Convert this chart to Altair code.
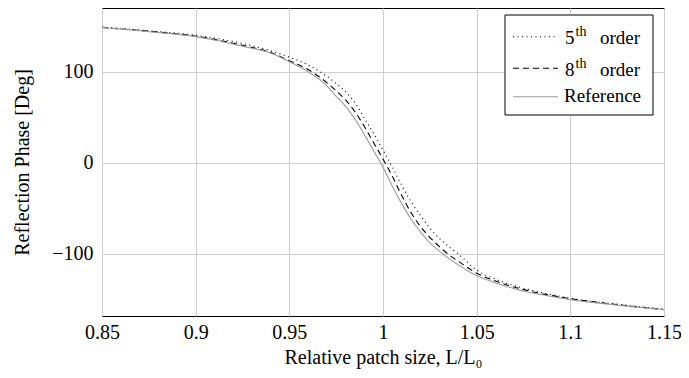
import altair as alt
import pandas as pd

# ---- data ----
x_vals = [0.85, 0.875, 0.90, 0.925, 0.94, 0.95, 0.96, 0.97, 0.975, 0.98,
          0.985, 0.99, 0.995, 1.0, 1.005, 1.01, 1.015, 1.02, 1.025, 1.03,
          1.035, 1.04, 1.05, 1.06, 1.075, 1.09, 1.10, 1.125, 1.15]

ref_vals = [148.5, 144, 138.5, 128, 120.5, 111, 100, 84.5, 73, 62,
            48, 31, 13, -5, -26, -45, -62, -76, -88, -97,
            -105, -112, -124, -132, -141, -147, -150.5, -156.5, -161.5]

order8_vals = [148.5, 144.5, 139, 129, 121, 112, 102.5, 88, 79, 69,
               56, 40, 22, 4, -15, -36, -55, -70, -82, -92,
               -101, -108, -121.5, -130, -139.5, -146, -149.5, -156, -161.5]

order5_vals = [149, 145, 140, 131, 123, 116, 107.5, 95, 87, 78,
               66, 49, 32, 14, -5, -25, -43, -58, -72, -83,
               -92, -100, -118, -128, -138, -145, -149, -155.5, -161]

series_names = ["5th order", "8th order", "Reference"]
series_colors = ["#000000", "#000000", "#9a9a9a"]
series_dashes = [[1, 3.5], [6, 4], [1, 0]]

x_ticks = [0.85, 0.9, 0.95, 1.0, 1.05, 1.1, 1.15]
y_ticks = [-100, 0, 100]

legend_base = ["5", "8", None]
legend_sup = ["th", "th", None]
legend_tail = ["order", "order", "Reference"]

rows = []
for name, vals in zip(series_names, [order5_vals, order8_vals, ref_vals]):
    for xv, yv in zip(x_vals, vals):
        rows.append({"x": xv, "y": yv, "series": name})
df = pd.DataFrame(rows)

FONT = "Liberation Serif"

lines = alt.Chart(df).mark_line(strokeWidth=1.1, interpolate="monotone").encode(
    x=alt.X("x:Q", scale=alt.Scale(domain=[0.85, 1.15], nice=False, zero=False),
            axis=alt.Axis(values=x_ticks, format="~g", title="Relative patch size, L/L\u2080",
                          grid=True, ticks=False, domain=False, labelPadding=6,
                          titlePadding=5, labelFlush=False)),
    y=alt.Y("y:Q", scale=alt.Scale(domain=[-168.5, 170], nice=False, zero=False),
            axis=alt.Axis(values=y_ticks, title="Reflection Phase [Deg]", grid=True,
                          ticks=False, domain=False, labelPadding=9, titlePadding=19)),
    color=alt.Color("series:N", scale=alt.Scale(domain=series_names, range=series_colors), legend=None),
    strokeDash=alt.StrokeDash("series:N", scale=alt.Scale(domain=series_names, range=series_dashes), legend=None),
    detail="series:N",
)

one = pd.DataFrame({"k": [0]})

# legend box (pixel positions inside the plot area)
box_x, box_x2, box_y, box_y2 = 403, 551, 7, 107
row_line_y = [28.7, 60.3, 88.7]
row_text_y = [35.5, 68, 94]
layers = [lines]
layers.append(alt.Chart(one).mark_rect(fill="white", stroke="black", strokeWidth=1).encode(
    x=alt.value(box_x), x2=alt.value(box_x2), y=alt.value(box_y), y2=alt.value(box_y2)))
for i in range(3):
    layers.append(alt.Chart(one).mark_rule(color=series_colors[i], strokeWidth=1.1,
                                           strokeDash=series_dashes[i]).encode(
        x=alt.value(411), x2=alt.value(456), y=alt.value(row_line_y[i])))
    if legend_base[i] is not None:
        layers.append(alt.Chart(one).mark_text(align="left", baseline="alphabetic", font=FONT,
                                               fontSize=19, color="black").encode(
            x=alt.value(463), y=alt.value(row_text_y[i]), text=alt.value(legend_base[i])))
        layers.append(alt.Chart(one).mark_text(align="left", baseline="alphabetic", font=FONT,
                                               fontSize=14, color="black").encode(
            x=alt.value(473.5), y=alt.value(row_text_y[i] - 8), text=alt.value(legend_sup[i])))
        layers.append(alt.Chart(one).mark_text(align="left", baseline="alphabetic", font=FONT,
                                               fontSize=19, color="black").encode(
            x=alt.value(498), y=alt.value(row_text_y[i]), text=alt.value(legend_tail[i])))
    else:
        layers.append(alt.Chart(one).mark_text(align="left", baseline="alphabetic", font=FONT,
                                               fontSize=19, color="black").encode(
            x=alt.value(462), y=alt.value(row_text_y[i]), text=alt.value(legend_tail[i])))

chart = alt.layer(*layers).properties(
    width=562, height=308,
    background="white",
    autosize=alt.AutoSizeParams(type="none"),
    padding={"left": 94, "top": 0, "right": 17, "bottom": 54},
).configure_view(
    stroke="black", strokeWidth=1
).configure_axis(
    labelFont=FONT, titleFont=FONT, labelFontSize=20, titleFontSize=20,
    labelColor="black", titleColor="black", titleFontWeight="normal",
    gridColor="#cfcfcf", gridWidth=1
)

chart.save("out.html", embed_options={"renderer": "svg", "actions": False})
